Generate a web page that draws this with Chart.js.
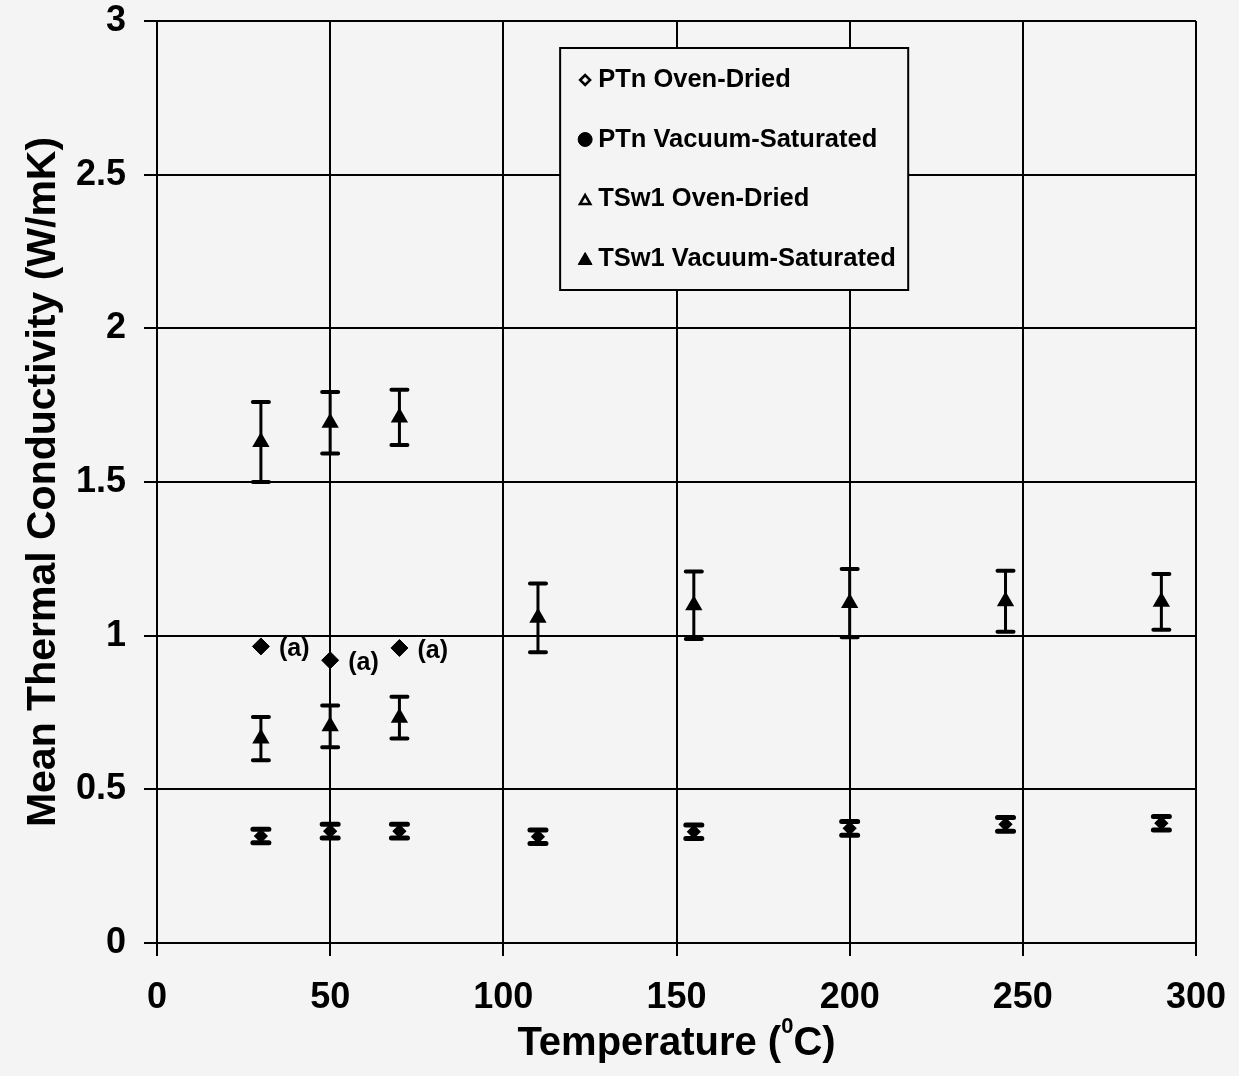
<!DOCTYPE html>
<html>
<head>
<meta charset="utf-8">
<script src="https://cdn.jsdelivr.net/npm/chart.js@4.4.1/dist/chart.umd.min.js"></script>
<style>
  html, body { margin: 0; padding: 0; background: #f4f4f4; }
  canvas { display: block; }
</style>
</head>
<body>
<canvas id="grafico" width="1239" height="1076"></canvas>
<script>
// Temperaturas de ensayo (°C)
const temperaturas = [30, 50, 70, 110, 155, 200, 245, 290];
const temperaturasBajas = [30, 50, 70];

// Conductividad térmica media (W/mK) y su desviación
const ptnSeco = [0.348, 0.364, 0.364, 0.346, 0.362, 0.373, 0.386, 0.390];
const ptnSecoErr = [0.022, 0.022, 0.022, 0.022, 0.022, 0.022, 0.022, 0.022];
const ptnSaturado = [0.965, 0.92, 0.96];
const ptnSaturadoNota = ['(a)', '(a)', '(a)'];
const tswSeco = [0.665, 0.705, 0.733];
const tswSecoErr = [0.07, 0.068, 0.068];
const tswSaturado = [1.63, 1.693, 1.71, 1.058, 1.099, 1.106, 1.112, 1.11];
const tswSaturadoErr = [0.13, 0.10, 0.09, 0.112, 0.11, 0.111, 0.099, 0.091];

const etiquetas = ['PTn Oven-Dried', 'PTn Vacuum-Saturated', 'TSw1 Oven-Dried', 'TSw1 Vacuum-Saturated'];

const FUENTE = "'Liberation Sans', Arial, sans-serif";
const FONDO = '#f4f4f4';

function puntos(xs, ys) {
  return xs.map((x, i) => ({ x: x, y: ys[i] }));
}

// barras de error con remates, por debajo de los marcadores
const barrasError = {
  id: 'barrasError',
  beforeDatasetsDraw(chart) {
    const ctx = chart.ctx;
    const ejeY = chart.scales.y;
    ctx.save();
    ctx.strokeStyle = '#000';
    ctx.lineCap = 'round';
    chart.data.datasets.forEach((ds, i) => {
      if (!ds.errores) return;
      chart.getDatasetMeta(i).data.forEach((pt, j) => {
        const v = ds.data[j].y, e = ds.errores[j];
        const arriba = ejeY.getPixelForValue(v + e);
        const abajo = ejeY.getPixelForValue(v - e);
        ctx.lineWidth = 3;
        ctx.beginPath();
        ctx.moveTo(pt.x, arriba);
        ctx.lineTo(pt.x, abajo);
        ctx.stroke();
        ctx.lineWidth = ds.remate || 4;
        ctx.beginPath();
        ctx.moveTo(pt.x - 8, arriba); ctx.lineTo(pt.x + 8, arriba);
        ctx.moveTo(pt.x - 8, abajo); ctx.lineTo(pt.x + 8, abajo);
        ctx.stroke();
      });
    });
    ctx.restore();
  }
};

// notas "(a)" a la derecha de cada punto
const notas = {
  id: 'notas',
  afterDatasetsDraw(chart) {
    const ctx = chart.ctx;
    ctx.save();
    ctx.font = 'bold 25px ' + FUENTE;
    ctx.fillStyle = '#000';
    ctx.textBaseline = 'middle';
    chart.data.datasets.forEach((ds, i) => {
      if (!ds.notas) return;
      chart.getDatasetMeta(i).data.forEach((pt, j) => {
        ctx.fillText(ds.notas[j], pt.x + 18, pt.y + 3);
      });
    });
    ctx.restore();
  }
};

// leyenda en recuadro dentro del área del gráfico
const leyenda = {
  id: 'leyenda',
  afterDraw(chart) {
    const ctx = chart.ctx;
    const area = chart.chartArea;
    const izq = area.left + (area.right - area.left) * 0.388;
    const der = area.left + (area.right - area.left) * 0.723;
    const arr = area.top + 27;
    const abj = area.top + 269;
    ctx.save();
    ctx.fillStyle = FONDO;
    ctx.fillRect(izq, arr, der - izq, abj - arr);
    ctx.strokeStyle = '#000';
    ctx.lineWidth = 2;
    ctx.strokeRect(izq, arr, der - izq, abj - arr);
    ctx.font = 'bold 25.5px ' + FUENTE;
    ctx.textBaseline = 'middle';
    chart.data.datasets.forEach((ds, i) => {
      const y = arr + 32 + i * 59.5;
      const m = ds.leyenda;
      ctx.fillStyle = m.relleno ? '#000' : FONDO;
      ctx.strokeStyle = '#000';
      ctx.lineWidth = m.borde;
      Chart.helpers.drawPoint(ctx, { pointStyle: m.estilo, radius: m.radio, borderWidth: m.borde, rotation: 0 }, izq + 25, y + (m.estilo === 'triangle' ? 2 : 0));
      ctx.fillStyle = '#000';
      ctx.fillText(ds.label, izq + 38, y);
    });
    ctx.restore();
  }
};

// título del eje x con el superíndice
const tituloX = {
  id: 'tituloX',
  afterDraw(chart) {
    const ctx = chart.ctx;
    const area = chart.chartArea;
    const grande = 'bold 40px ' + FUENTE;
    const chica = 'bold 22px ' + FUENTE;
    const partes = [['Temperature (', grande, 0], ['0', chica, -22], ['C)', grande, 0]];
    ctx.save();
    ctx.fillStyle = '#000';
    ctx.textBaseline = 'alphabetic';
    let total = 0;
    partes.forEach(p => { ctx.font = p[1]; total += ctx.measureText(p[0]).width; });
    let x = (area.left + area.right) / 2 - total / 2;
    const base = area.bottom + 112;
    partes.forEach(p => {
      ctx.font = p[1];
      ctx.fillText(p[0], x, base + p[2]);
      x += ctx.measureText(p[0]).width;
    });
    ctx.restore();
  }
};

const grafico = new Chart(document.getElementById('grafico'), {
  type: 'scatter',
  data: {
    datasets: [
      {
        label: etiquetas[0],
        data: puntos(temperaturas, ptnSeco),
        errores: ptnSecoErr,
        remate: 5,
        pointStyle: 'rectRot',
        pointRadius: 5,
        pointBorderWidth: 3,
        backgroundColor: '#000',
        borderColor: '#000',
        leyenda: { estilo: 'rectRot', radio: 5, borde: 2.5, relleno: false }
      },
      {
        label: etiquetas[1],
        data: puntos(temperaturasBajas, ptnSaturado),
        notas: ptnSaturadoNota,
        pointStyle: 'rectRot',
        pointRadius: 8.5,
        pointBorderWidth: 1,
        backgroundColor: '#000',
        borderColor: '#000',
        leyenda: { estilo: 'circle', radio: 7, borde: 1, relleno: true }
      },
      {
        label: etiquetas[2],
        data: puntos(temperaturasBajas, tswSeco),
        errores: tswSecoErr,
        pointStyle: 'triangle',
        pointRadius: 8,
        pointBorderWidth: 2,
        backgroundColor: '#000',
        borderColor: '#000',
        leyenda: { estilo: 'triangle', radio: 6, borde: 2.5, relleno: false }
      },
      {
        label: etiquetas[3],
        data: puntos(temperaturas, tswSaturado),
        errores: tswSaturadoErr,
        pointStyle: 'triangle',
        pointRadius: 8,
        pointBorderWidth: 2,
        backgroundColor: '#000',
        borderColor: '#000',
        leyenda: { estilo: 'triangle', radio: 8, borde: 1, relleno: true }
      }
    ]
  },
  options: {
    responsive: false,
    animation: false,
    devicePixelRatio: 1,
    layout: { padding: { top: 21, right: 43, left: 0, bottom: 0 } },
    plugins: {
      legend: { display: false },
      tooltip: { enabled: false }
    },
    scales: {
      x: {
        type: 'linear',
        min: 0,
        max: 300,
        afterFit: s => { s.height = 133; s.paddingLeft = 0; s.paddingRight = 0; },
        ticks: {
          stepSize: 50,
          padding: 20,
          color: '#000',
          font: { family: FUENTE, size: 36, weight: 'bold' }
        },
        grid: { color: '#000', lineWidth: 2, tickLength: 13, tickColor: '#000', tickWidth: 2 },
        border: { color: '#000', width: 2 }
      },
      y: {
        type: 'linear',
        min: 0,
        max: 3,
        afterFit: s => { s.width = 157; s.paddingTop = 0; s.paddingBottom = 0; },
        ticks: {
          stepSize: 0.5,
          padding: 18,
          color: '#000',
          font: { family: FUENTE, size: 36, weight: 'bold' },
          callback: v => v.toString()
        },
        grid: { color: '#000', lineWidth: 2, tickLength: 13, tickColor: '#000', tickWidth: 2 },
        border: { color: '#000', width: 2 },
        title: {
          display: true,
          text: 'Mean Thermal Conductivity (W/mK)',
          color: '#000',
          font: { family: FUENTE, size: 41, weight: 'bold' },
          padding: { top: 19, bottom: 0 }
        }
      }
    }
  },
  plugins: [barrasError, notas, leyenda, tituloX]
});
</script>
</body>
</html>
